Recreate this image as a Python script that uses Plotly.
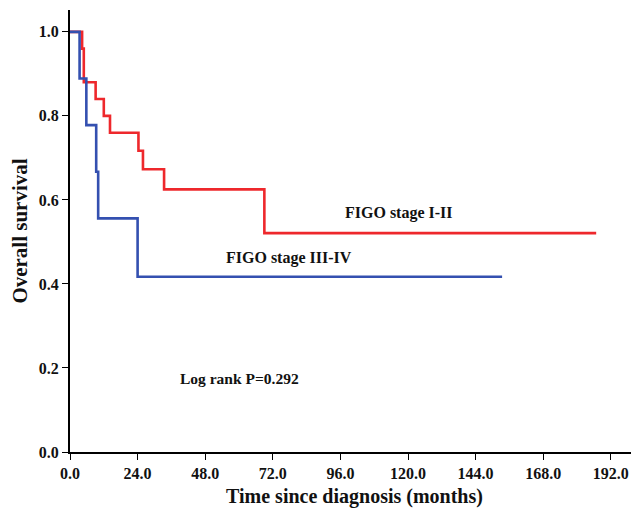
import plotly.graph_objects as go

# Kaplan-Meier step data
red_time = [0, 4.3, 4.9, 9.1, 12.0, 14.2, 24.3, 25.9, 33.4, 69.0, 186.8]
red_surv = [1.0, 0.96, 0.88, 0.84, 0.80, 0.76, 0.717, 0.673, 0.625, 0.521, 0.521]
blue_time = [0, 3.4, 5.8, 9.3, 10.0, 24.0, 153.4]
blue_surv = [1.0, 0.889, 0.778, 0.667, 0.556, 0.417, 0.417]

x_ticks = [0, 24, 48, 72, 96, 120, 144, 168, 192]
y_ticks = [0.0, 0.2, 0.4, 0.6, 0.8, 1.0]

FONT = "Liberation Serif"

fig = go.Figure()
fig.add_trace(go.Scatter(x=red_time, y=red_surv, mode="lines", line_shape="hv",
                         line=dict(color="rgb(238,40,44)", width=2.6), name="FIGO stage I-II"))
fig.add_trace(go.Scatter(x=blue_time, y=blue_surv, mode="lines", line_shape="hv",
                         line=dict(color="rgb(52,80,176)", width=2.6), name="FIGO stage III-IV"))

fig.add_annotation(x=116.8, y=0.569, text="<b>FIGO stage I-II</b>", showarrow=False,
                   font=dict(family=FONT, size=16, color="#111"))
fig.add_annotation(x=77.7, y=0.462, text="<b>FIGO stage III-IV</b>", showarrow=False,
                   font=dict(family=FONT, size=16, color="#111"))
fig.add_annotation(x=60, y=0.176, text="<b>Log rank P=0.292</b>", showarrow=False,
                   font=dict(family=FONT, size=15.5, color="#111"))

# page body has an 8px margin, so the figure is offset by 8px
fig.update_layout(
    width=631, height=503,
    margin=dict(l=62, r=0, t=2, b=59),
    paper_bgcolor="white", plot_bgcolor="white",
    showlegend=False,
    font=dict(family=FONT, color="#111"),
    xaxis=dict(range=[0, 202], tickvals=x_ticks, ticktext=[f"<b>{v:.1f}</b>" for v in x_ticks],
               showgrid=False, zeroline=False, showline=True, linecolor="black", linewidth=2,
               ticks="outside", ticklen=6, tickcolor="black", tickwidth=1, automargin=False,
               tickfont=dict(family=FONT, size=16, color="#111"),
               title=dict(text="<b>Time since diagnosis (months)</b>", standoff=8,
                          font=dict(family=FONT, size=20, color="#111"))),
    yaxis=dict(range=[0, 1.052], tickvals=y_ticks, ticktext=[f"<b>{v:.1f}</b>" for v in y_ticks],
               showgrid=False, zeroline=False, showline=True, linecolor="black", linewidth=2,
               ticks="outside", ticklen=6, tickcolor="black", tickwidth=1, automargin=False,
               tickfont=dict(family=FONT, size=16, color="#111"),
               title=dict(text="<b>Overall survival</b>", standoff=8,
                          font=dict(family=FONT, size=21, color="#111"))),
)

fig.write_html("out.html")
